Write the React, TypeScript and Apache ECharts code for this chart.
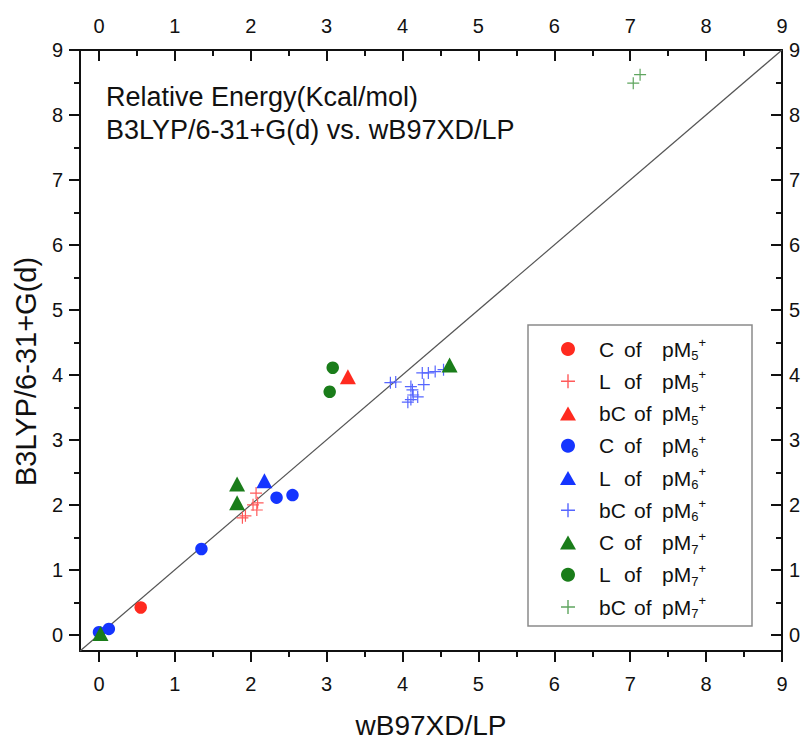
import React, { useEffect, useRef } from 'react';
import * as echarts from 'echarts';

const FONT = "'Liberation Sans', Arial, sans-serif";

const majorTicks = [0, 1, 2, 3, 4, 5, 6, 7, 8, 9];
const minorTicks = [0.5, 1.5, 2.5, 3.5, 4.5, 5.5, 6.5, 7.5, 8.5];

// [wB97XD/LP, B3LYP/6-31+G(d)]
const cPM5 = [[0.55, 0.42]];
const lPM5 = [[1.89, 1.8], [1.93, 1.83], [2.03, 2.0], [2.08, 1.92], [2.07, 2.18], [2.09, 2.03]];
const bcPM5 = [[3.28, 3.97]];
const cPM6 = [[0.0, 0.04], [0.13, 0.09], [1.35, 1.32], [2.34, 2.11], [2.55, 2.15]];
const lPM6 = [[2.18, 2.37]];
const bcPM6 = [
  [3.84, 3.88], [3.91, 3.89], [4.11, 3.82], [4.13, 3.77], [4.14, 3.69], [4.2, 3.66],
  [4.07, 3.58], [4.11, 3.62], [4.28, 3.85], [4.26, 4.03], [4.34, 4.03], [4.43, 4.05], [4.54, 4.08],
];
const cPM7 = [[0.02, 0.02], [1.82, 2.32], [1.82, 2.03], [4.62, 4.15]];
const lPM7 = [[3.08, 4.11], [3.04, 3.74]];
const bcPM7 = [[7.04, 8.49], [7.13, 8.62]];
const diagonal = [[-0.25, -0.25], [9, 9]];

const seriesNames = [
  'C of pM5+', 'L of pM5+', 'bC of pM5+',
  'C of pM6+', 'L of pM6+', 'bC of pM6+',
  'C of pM7+', 'L of pM7+', 'bC of pM7+',
];

const legendLabels: Record<string, string> = {
  'C of pM5+': '{w1|C}{o1|of}{p|pM}{s|5}{u|+}',
  'L of pM5+': '{w1|L}{o1|of}{p|pM}{s|5}{u|+}',
  'bC of pM5+': '{w2|bC}{o2|of}{p|pM}{s|5}{u|+}',
  'C of pM6+': '{w1|C}{o1|of}{p|pM}{s|6}{u|+}',
  'L of pM6+': '{w1|L}{o1|of}{p|pM}{s|6}{u|+}',
  'bC of pM6+': '{w2|bC}{o2|of}{p|pM}{s|6}{u|+}',
  'C of pM7+': '{w1|C}{o1|of}{p|pM}{s|7}{u|+}',
  'L of pM7+': '{w1|L}{o1|of}{p|pM}{s|7}{u|+}',
  'bC of pM7+': '{w2|bC}{o2|of}{p|pM}{s|7}{u|+}',
};

const RED = '#ff2a1f';
const BLUE = '#1535ff';
const GREEN = '#1a7d1a';
const RED_P = '#ff5a5a';
const BLUE_P = '#5565ff';
const GREEN_P = '#5fa55f';

const TRI = 'path://M0,14L8,0L16,14Z';
const PLUS = 'path://M5.4,0h1.2v12h-1.2z M0,5.4h12v1.2h-12z';

function App() {
  const ref = useRef<HTMLDivElement>(null);
  useEffect(() => {
    if (!ref.current) return;
    const chart = echarts.init(ref.current, undefined, { renderer: 'svg' });

    const axisLineStyle = { color: '#111', width: 2 };
    const labelStyle = { fontSize: 20, color: '#111', fontFamily: FONT };

    const mkX = (position: 'bottom' | 'top', minor: boolean): any => ({
      type: 'value',
      min: -0.25,
      max: 9,
      position,
      gridIndex: 0,
      axisLine: { show: !minor, onZero: false, lineStyle: axisLineStyle },
      axisTick: {
        show: true,
        inside: position === 'top',
        length: minor ? 6 : 11,
        lineStyle: { color: '#111', width: 2 },
        customValues: minor ? minorTicks : majorTicks,
      },
      axisLabel: minor
        ? { show: false }
        : { show: true, customValues: majorTicks, margin: position === 'top' ? 14 : 23, ...labelStyle },
      splitLine: { show: false },
      ...(position === 'bottom' && !minor
        ? {
            name: 'wB97XD/LP',
            nameLocation: 'middle',
            nameGap: 60,
            nameTextStyle: { fontSize: 28, color: '#111', fontFamily: FONT },
          }
        : {}),
    });

    const mkY = (position: 'left' | 'right', minor: boolean): any => ({
      type: 'value',
      min: -0.25,
      max: 9,
      position,
      gridIndex: 0,
      axisLine: { show: !minor, onZero: false, lineStyle: axisLineStyle },
      axisTick: {
        show: true,
        inside: position === 'right',
        length: minor ? 6 : 11,
        lineStyle: { color: '#111', width: 2 },
        customValues: minor ? minorTicks : majorTicks,
      },
      axisLabel: minor
        ? { show: false }
        : { show: true, customValues: majorTicks, margin: position === 'left' ? 17 : 7, ...labelStyle },
      splitLine: { show: false },
      ...(position === 'left' && !minor
        ? {
            name: 'B3LYP/6-31+G(d)',
            nameLocation: 'middle',
            nameGap: 39,
            nameTextStyle: { fontSize: 29, color: '#111', fontFamily: FONT, padding: [0, 42, 0, 0] },
          }
        : {}),
    });

    const sc = (name: string, data: number[][], symbol: string, size: any, color: string): any => ({
      type: 'scatter',
      name,
      data,
      symbol,
      symbolSize: size,
      itemStyle: { color, opacity: 1 },
      xAxisIndex: 0,
      yAxisIndex: 0,
      emphasis: { disabled: true },
    });

    const option: any = {
      animation: false,
      backgroundColor: '#fff',
      grid: { left: 80, right: 22, top: 50, bottom: 89, containLabel: false, outerBoundsMode: 'none' },
      xAxis: [mkX('bottom', false), mkX('top', false), mkX('bottom', true), mkX('top', true)],
      yAxis: [mkY('left', false), mkY('right', false), mkY('left', true), mkY('right', true)],
      legend: {
        orient: 'vertical',
        left: 560,
        top: 336,
        padding: 0,
        itemWidth: 52,
        itemHeight: 14,
        itemGap: 6.25,
        selectedMode: false,
        data: seriesNames,
        formatter: (name: string) => legendLabels[name],
        textStyle: {
          fontSize: 21,
          color: '#111',
          fontFamily: FONT,
          rich: {
            w1: { width: 25, fontSize: 21, lineHeight: 26, fontFamily: FONT, color: '#111' },
            w2: { width: 35, fontSize: 21, lineHeight: 26, fontFamily: FONT, color: '#111' },
            o1: { width: 38, fontSize: 21, lineHeight: 26, fontFamily: FONT, color: '#111' },
            o2: { width: 28, fontSize: 21, lineHeight: 26, fontFamily: FONT, color: '#111' },
            p: { fontSize: 21, lineHeight: 26, fontFamily: FONT, color: '#111' },
            s: { fontSize: 13, lineHeight: 13, verticalAlign: 'bottom', fontFamily: FONT, color: '#111' },
            u: { fontSize: 13, lineHeight: 13, verticalAlign: 'top', fontFamily: FONT, color: '#111' },
          },
        },
      },
      graphic: [
        {
          type: 'rect',
          z: 0,
          shape: { x: 528, y: 325, width: 224, height: 301 },
          style: { fill: 'rgba(0,0,0,0)', stroke: '#8a8a8a', lineWidth: 1.5 },
          silent: true,
        },
        {
          type: 'text',
          x: 106,
          y: 80,
          silent: true,
          style: {
            text: 'Relative Energy(Kcal/mol)\nB3LYP/6-31+G(d) vs. wB97XD/LP',
            fontSize: 27,
            lineHeight: 33,
            fontFamily: FONT,
            fill: '#111',
          },
        },
      ],
      series: [
        {
          type: 'line',
          data: diagonal,
          symbol: 'none',
          lineStyle: { color: '#555', width: 1.2 },
          xAxisIndex: 0,
          yAxisIndex: 0,
          silent: true,
          z: 1,
        },
        sc('C of pM5+', cPM5, 'circle', 12.5, RED),
        sc('L of pM5+', lPM5, PLUS, 12, RED_P),
        sc('bC of pM5+', bcPM5, TRI, [16, 15], RED),
        sc('C of pM6+', cPM6, 'circle', 12.5, BLUE),
        sc('L of pM6+', lPM6, TRI, [16, 15], BLUE),
        sc('bC of pM6+', bcPM6, PLUS, 12, BLUE_P),
        sc('C of pM7+', cPM7, TRI, [16, 15], GREEN),
        sc('L of pM7+', lPM7, 'circle', 12.5, GREEN),
        sc('bC of pM7+', bcPM7, PLUS, 12, GREEN_P),
      ],
    };

    chart.setOption(option);
    return () => chart.dispose();
  }, []);

  return <div ref={ref} style={{ width: 804, height: 740, position: 'absolute', left: 0, top: 0 }} />;
}

export default App;
